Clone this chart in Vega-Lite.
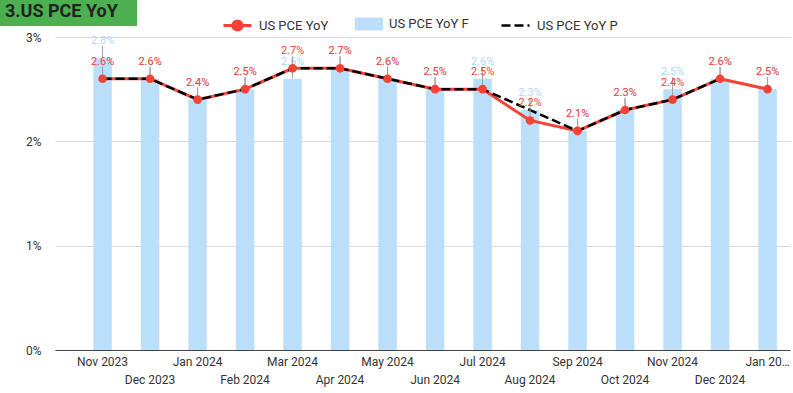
{
  "$schema": "https://vega.github.io/schema/vega-lite/v6.json",
  "width": 735,
  "height": 313,
  "autosize": "none",
  "padding": {"left": 55, "top": 37, "right": 3, "bottom": 43},
  "background": "white",
  "config": {
    "font": "Roboto",
    "view": {"stroke": null},
    "legend": {"padding": 0, "labelFont": "Roboto", "labelFontSize": 13, "labelColor": "#333", "orient": "none"}
  },
  "data": {
    "values": [
      {"m": "Nov 2023", "a": 0.026, "f": 0.028, "p": 0.026},
      {"m": "Dec 2023", "a": 0.026, "f": 0.026, "p": 0.026},
      {"m": "Jan 2024", "a": 0.024, "f": 0.024, "p": 0.024},
      {"m": "Feb 2024", "a": 0.025, "f": 0.025, "p": 0.025},
      {"m": "Mar 2024", "a": 0.027, "f": 0.026, "p": 0.027},
      {"m": "Apr 2024", "a": 0.027, "f": 0.027, "p": 0.027},
      {"m": "May 2024", "a": 0.026, "f": 0.026, "p": 0.026},
      {"m": "Jun 2024", "a": 0.025, "f": 0.025, "p": 0.025},
      {"m": "Jul 2024", "a": 0.025, "f": 0.026, "p": 0.025},
      {"m": "Aug 2024", "a": 0.022, "f": 0.023, "p": 0.023},
      {"m": "Sep 2024", "a": 0.021, "f": 0.021, "p": 0.021},
      {"m": "Oct 2024", "a": 0.023, "f": 0.023, "p": 0.023},
      {"m": "Nov 2024", "a": 0.024, "f": 0.025, "p": 0.024},
      {"m": "Dec 2024", "a": 0.026, "f": 0.026, "p": 0.026},
      {"m": "Jan 2025", "a": 0.025, "f": 0.025, "p": null}
    ]
  },
  "encoding": {
    "x": {
      "field": "m", "type": "ordinal", "sort": null, "title": null,
      "scale": {"paddingInner": 0.61, "paddingOuter": 0.542, "align": 0.744},
      "axis": {
        "labelAngle": 0, "ticks": false, "domainColor": "#444", "domainWidth": 1.2,
        "labelFont": "Roboto", "labelFontSize": 12, "labelColor": "#333",
        "labelExpr": "datum.value == 'Jan 2025' ? 'Jan 20…' : datum.label",
        "labelPadding": {"condition": {"test": "indexof(['Dec 2023','Feb 2024','Apr 2024','Jun 2024','Aug 2024','Oct 2024','Dec 2024'], datum.value) >= 0", "value": 24}, "value": 6},
        "labelOverlap": false, "labelBound": false
      }
    }
  },
  "layer": [
    {
      "mark": {"type": "bar", "width": 18.5},
      "encoding": {
        "y": {
          "field": "f", "type": "quantitative", "title": null,
          "scale": {"domain": [0, 0.03], "nice": false},
          "axis": {"values": [0, 0.01, 0.02, 0.03], "format": ".0%", "domain": false, "ticks": false,
            "labelPadding": 14, "labelFontSize": 12, "labelColor": "#333", "gridColor": "#d9d9d9", "gridWidth": 1}
        },
        "fill": {
          "datum": "US PCE YoY F", "type": "nominal",
          "scale": {"range": ["#bbdefb"]},
          "legend": {"title": null, "symbolType": "M-1,-0.46H1V0.46H-1Z", "symbolSize": 784, "symbolStrokeWidth": 0,
            "labelOffset": 6, "legendX": 300, "legendY": -27}
        }
      }
    },
    {
      "mark": {"type": "rule", "color": "#9e9e9e", "strokeWidth": 1, "y2Offset": -12},
      "encoding": {"y": {"field": "f", "type": "quantitative"}, "y2": {"field": "f"}}
    },
    {
      "mark": {"type": "text", "color": "#b3d7f5", "fontSize": 11, "dy": -17, "font": "Roboto"},
      "encoding": {"y": {"field": "f", "type": "quantitative"}, "text": {"field": "f", "format": ".1%"}}
    },
    {
      "mark": {"type": "line", "strokeWidth": 3},
      "encoding": {
        "y": {"field": "a", "type": "quantitative"},
        "stroke": {
          "datum": "US PCE YoY", "type": "nominal",
          "scale": {"range": ["#f44336"]},
          "legend": {"title": null,
            "symbolType": "M-1,0H1M0.33,0A0.33,0.33,0,1,1,-0.33,0A0.33,0.33,0,1,1,0.33,0Z",
            "symbolSize": 784, "symbolStrokeWidth": 3, "symbolFillColor": "#f44336",
            "labelOffset": 6, "legendX": 167, "legendY": -27}
        }
      }
    },
    {
      "mark": {"type": "line", "strokeWidth": 2.5, "color": "#000", "strokeDash": [9, 4]},
      "encoding": {
        "y": {"field": "p", "type": "quantitative"},
        "strokeDash": {
          "datum": "US PCE YoY P", "type": "nominal",
          "scale": {"range": [[9, 4]]},
          "legend": {"title": null, "symbolType": "stroke", "symbolSize": 784, "symbolStrokeWidth": 2.5,
            "symbolStrokeColor": "#000", "labelOffset": 6, "legendX": 445, "legendY": -27}
        }
      }
    },
    {
      "mark": {"type": "rule", "color": "#9e9e9e", "strokeWidth": 1, "y2Offset": -12},
      "encoding": {"y": {"field": "a", "type": "quantitative"}, "y2": {"field": "a"}}
    },
    {
      "mark": {"type": "point", "filled": true, "color": "#f44336", "size": 75, "opacity": 1},
      "encoding": {
        "y": {"field": "a", "type": "quantitative"},
        "shape": {
          "datum": "hdr", "type": "nominal",
          "scale": {"range": ["circle"]},
          "legend": {
            "title": "3.US PCE YoY", "titleFontSize": 18, "titleFontWeight": "bold", "titleColor": "#222",
            "titleFont": "Roboto", "titleOrient": "left", "titlePadding": 0, "titleBaseline": "middle",
            "fillColor": "#4caf50", "padding": 5, "symbolSize": 0, "symbolStrokeWidth": 0, "symbolOpacity": 0,
            "labelExpr": "''", "labelOffset": 0, "labelFontSize": 14, "direction": "horizontal",
            "legendX": -55, "legendY": -37
          }
        }
      }
    },
    {
      "mark": {"type": "text", "color": "#f44336", "fontSize": 11, "dy": -17, "font": "Roboto"},
      "encoding": {"y": {"field": "a", "type": "quantitative"}, "text": {"field": "a", "format": ".1%"}}
    }
  ]
}
